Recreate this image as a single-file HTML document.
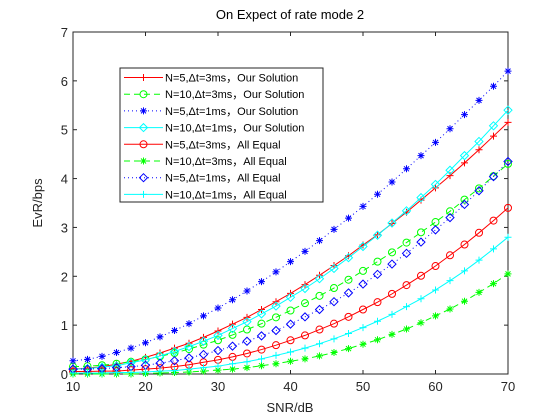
<!DOCTYPE html>
<html><head><meta charset="utf-8"><style>
html,body{margin:0;padding:0;background:#fff;}
svg{display:block;font-family:"Liberation Sans","Noto Sans CJK SC",sans-serif;}
</style></head><body>
<svg id="chart" width="560" height="420" viewBox="0 0 560 420" xmlns="http://www.w3.org/2000/svg">
<rect x="0" y="0" width="560" height="420" fill="#fff"/>
<text x="290" y="19" text-anchor="middle" font-size="13" fill="#000">On Expect of rate mode 2</text>
<text x="290" y="412" text-anchor="middle" font-size="13" fill="#262626">SNR/dB</text>
<text transform="translate(42,203) rotate(-90)" text-anchor="middle" font-size="13" fill="#262626">EvR/bps</text>
<g id="axes"></g>
<g id="series"></g>
<g id="legend"></g>
</svg>
<script>
const snr = [10,12,14,16,18,20,22,24,26,28,30,32,34,36,38,40,42,44,46,48,50,52,54,56,58,60,62,64,66,68,70];
const s1 = [0.10,0.12,0.15,0.20,0.26,0.34,0.43,0.53,0.63,0.75,0.88,1.02,1.16,1.32,1.48,1.65,1.83,2.02,2.22,2.42,2.64,2.85,3.08,3.31,3.56,3.81,4.06,4.32,4.59,4.87,5.15];
const s2 = [0.15,0.16,0.18,0.21,0.25,0.30,0.36,0.43,0.51,0.60,0.69,0.80,0.91,1.03,1.16,1.30,1.45,1.60,1.76,1.93,2.11,2.30,2.49,2.69,2.90,3.11,3.33,3.57,3.80,4.05,4.30];
const s3 = [0.27,0.30,0.36,0.44,0.53,0.64,0.76,0.89,1.03,1.19,1.35,1.52,1.70,1.89,2.09,2.30,2.51,2.73,2.96,3.19,3.43,3.68,3.93,4.20,4.47,4.74,5.02,5.31,5.60,5.89,6.20];
const s4 = [0.10,0.11,0.14,0.17,0.23,0.29,0.37,0.46,0.56,0.67,0.79,0.93,1.07,1.23,1.39,1.57,1.75,1.95,2.16,2.38,2.61,2.84,3.09,3.34,3.61,3.88,4.17,4.47,4.76,5.08,5.40];
const s5 = [0.05,0.05,0.06,0.06,0.08,0.10,0.12,0.15,0.19,0.24,0.29,0.35,0.42,0.50,0.59,0.69,0.79,0.91,1.03,1.17,1.32,1.47,1.64,1.82,2.01,2.21,2.43,2.65,2.89,3.14,3.40];
const s6 = [0.00,0.00,0.00,0.00,0.00,0.01,0.02,0.03,0.04,0.06,0.08,0.10,0.13,0.17,0.21,0.26,0.31,0.37,0.44,0.52,0.61,0.70,0.81,0.92,1.05,1.19,1.33,1.49,1.67,1.85,2.05];
const s7 = [0.10,0.10,0.11,0.13,0.15,0.18,0.22,0.27,0.33,0.40,0.48,0.57,0.67,0.78,0.89,1.02,1.17,1.32,1.48,1.66,1.84,2.04,2.25,2.47,2.70,2.95,3.20,3.47,3.75,4.04,4.35];
const s8 = [0.02,0.02,0.02,0.03,0.03,0.04,0.06,0.07,0.10,0.13,0.16,0.21,0.25,0.31,0.38,0.45,0.53,0.62,0.72,0.83,0.95,1.08,1.22,1.38,1.54,1.72,1.91,2.11,2.33,2.56,2.80];
const xTicks = [10,20,30,40,50,60,70];
const yTicks = [0,1,2,3,4,5,6,7];
const labels = ["N=5,\u0394t=3ms\uFF0COur Solution","N=10,\u0394t=3ms\uFF0COur Solution","N=5,\u0394t=1ms\uFF0COur Solution","N=10,\u0394t=1ms\uFF0COur Solution","N=5,\u0394t=3ms\uFF0CAll Equal","N=10,\u0394t=3ms\uFF0CAll Equal","N=5,\u0394t=1ms\uFF0CAll Equal","N=10,\u0394t=1ms\uFF0CAll Equal"];

const NS="http://www.w3.org/2000/svg";
const X0=73,X1=508,Y0=374,Y1=32;
const xs=v=>X0+(v-10)/60*(X1-X0);
const ys=v=>Y0-v/7*(Y0-Y1);
function mk(tag,attrs,parent){const e=document.createElementNS(NS,tag);for(const k in attrs)e.setAttribute(k,attrs[k]);parent.appendChild(e);return e;}

const axes=document.getElementById('axes');
const box=mk('rect',{x:X0,y:Y1,width:X1-X0,height:Y0-Y1,fill:'none',stroke:'#262626','stroke-width':1},axes);


xTicks.forEach(t=>{
  const x=xs(t);
  mk('line',{x1:x,x2:x,y1:Y0,y2:Y0-4,stroke:'#262626'},axes);
  mk('line',{x1:x,x2:x,y1:Y1,y2:Y1+4,stroke:'#262626'},axes);
  const l=mk('text',{x:x,y:Y0+17,'text-anchor':'middle','font-size':13,fill:'#262626'},axes);
  l.textContent=t;
  
  
});
yTicks.forEach(t=>{
  const y=ys(t);
  mk('line',{x1:X0,x2:X0+4,y1:y,y2:y,stroke:'#262626'},axes);
  mk('line',{x1:X1,x2:X1-4,y1:y,y2:y,stroke:'#262626'},axes);
  const l=mk('text',{x:X0-5,y:y+5,'text-anchor':'end','font-size':13,fill:'#262626'},axes);
  l.textContent=t;
  
  
});

function marker(type,x,y,color,parent){
  const g=mk('g',{stroke:color,fill:'none','stroke-width':1},parent);
  const r=3.5;
  if(type==='+'){mk('path',{d:`M${x-r} ${y}H${x+r}M${x} ${y-r}V${y+r}`},g);}
  else if(type==='o'){mk('circle',{cx:x,cy:y,r:r},g);}
  else if(type==='*'){mk('path',{d:`M${x-r} ${y}H${x+r}M${x} ${y-r}V${y+r}M${x-2.5} ${y-2.5}L${x+2.5} ${y+2.5}M${x-2.5} ${y+2.5}L${x+2.5} ${y-2.5}`},g);}
  else if(type==='d'){mk('path',{d:`M${x} ${y-4}L${x+4} ${y}L${x} ${y+4}L${x-4} ${y}Z`},g);}
  return g;
}
const defs=[
 {d:s1,c:'#ff0000',m:'+',dash:'',name:'series-n5-3ms-our'},
 {d:s2,c:'#00ff00',m:'o',dash:'6 4',name:'series-n10-3ms-our'},
 {d:s3,c:'#0000ff',m:'*',dash:'1 3',name:'series-n5-1ms-our'},
 {d:s4,c:'#00ffff',m:'d',dash:'',name:'series-n10-1ms-our'},
 {d:s5,c:'#ff0000',m:'o',dash:'',name:'series-n5-3ms-equal'},
 {d:s6,c:'#00ff00',m:'*',dash:'6 4',name:'series-n10-3ms-equal'},
 {d:s7,c:'#0000ff',m:'d',dash:'1 3',name:'series-n5-1ms-equal'},
 {d:s8,c:'#00ffff',m:'+',dash:'',name:'series-n10-1ms-equal'}
];
function lineAttrs(s,extra){const a=Object.assign({fill:'none',stroke:s.c,'stroke-width':1},extra);if(s.dash)a['stroke-dasharray']=s.dash;return a;}
const sg=document.getElementById('series');
defs.forEach(s=>{
  const g=mk('g',{},sg);
  
  
  const pts=snr.map((v,i)=>xs(v)+','+ys(s.d[i])).join(' ');
  const pl=mk('polyline',lineAttrs(s,{points:pts}),g);
  
  
  snr.forEach((v,i)=>{
    const m=marker(s.m,xs(v),ys(s.d[i]),s.c,g);
    
    
  });
});

const lg=document.getElementById('legend');
const lb=mk('rect',{x:120,y:68,width:203,height:134,fill:'#fff',stroke:'#262626','stroke-width':1},lg);


defs.forEach((s,i)=>{
  const y=77.5+i*16.7;
  const g=mk('g',{},lg);
  
  
  mk('line',lineAttrs(s,{x1:124,x2:163,y1:y,y2:y}),g);
  marker(s.m,143.5,y,s.c,g);
  const t=mk('text',{x:165,y:y+4,'font-size':11,fill:'#000'},g);
  t.textContent=labels[i];
});
</script>
</body></html>
